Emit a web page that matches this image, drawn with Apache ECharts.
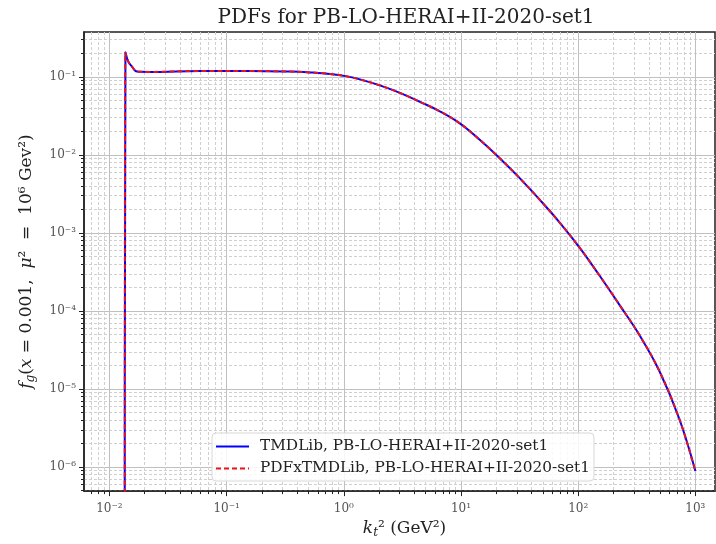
<!DOCTYPE html>
<html><head><meta charset="utf-8">
<script src="https://cdn.jsdelivr.net/npm/echarts@6/dist/echarts.min.js"></script>
<style>html,body{margin:0;padding:0;background:#fff}#c{width:716px;height:544px}</style>
</head><body><div id="c"></div>
<script>
const titleText = 'PDFs for PB-LO-HERAI+II-2020-set1';
const seriesNames = ['TMDLib, PB-LO-HERAI+II-2020-set1', 'PDFxTMDLib, PB-LO-HERAI+II-2020-set1'];

const kt2 = [0.0135, 0.0137, 0.0145, 0.0156, 0.0172, 0.0223, 0.0596, 0.159, 0.348, 0.515, 0.762, 1.064, 1.374, 2.03, 3.01, 4.46, 6.6, 9.77, 14.45, 21.4, 31.7, 46.9, 69.5, 102.8, 152, 225, 334, 494, 731, 1000];
const tmdlibF = [1e-9, 0.2047, 0.157, 0.1355, 0.1169, 0.1158, 0.1193, 0.1193, 0.117, 0.1142, 0.1092, 0.1015, 0.0929, 0.0778, 0.0624, 0.0479, 0.0362, 0.0254, 0.01565, 0.00908, 0.00504, 0.00267, 0.00136, 6.5e-4, 2.85e-4, 1.2e-4, 4.88e-5, 1.69e-5, 4.11e-6, 8.9e-7];
const pdfxF = [1e-9, 0.2047, 0.157, 0.1355, 0.1169, 0.1158, 0.1193, 0.1193, 0.117, 0.1142, 0.1092, 0.1015, 0.0929, 0.0778, 0.0624, 0.0479, 0.0362, 0.0254, 0.01565, 0.00908, 0.00504, 0.00267, 0.00136, 6.5e-4, 2.85e-4, 1.2e-4, 4.88e-5, 1.69e-5, 4.11e-6, 8.9e-7];

const xTickValues = [0.01, 0.1, 1, 10, 100, 1000];
const xTickLabels = ['10⁻²', '10⁻¹', '10⁰', '10¹', '10²', '10³'];
const yTickValues = [1e-6, 1e-5, 1e-4, 1e-3, 1e-2, 1e-1];
const yTickLabels = ['10⁻⁶', '10⁻⁵', '10⁻⁴', '10⁻³', '10⁻²', '10⁻¹'];

const xRange = [0.00607, 1470];
const yRange = [4.93e-7, 0.376];

function minorValues(lo, hi) {
  const out = [];
  for (let d = -8; d <= 4; d++) {
    for (let k = 2; k <= 9; k++) {
      const v = k * Math.pow(10, d);
      if (v > lo && v < hi) out.push(v);
    }
  }
  return out;
}
function labelFor(v, vals, labels) {
  for (let i = 0; i < vals.length; i++) {
    if (Math.abs(Math.log10(v) - Math.log10(vals[i])) < 1e-6) return labels[i];
  }
  return '';
}

const SERIF = 'DejaVu Serif';
const axisColor = '#222';
const majorGrid = { show: true, lineStyle: { color: '#c0c0c0', width: 1, type: 'solid' } };
const minorGrid = { show: true, lineStyle: { color: '#d0d0d0', width: 1, type: [3, 2] } };
const nameRich = {
  it: { fontFamily: SERIF, fontStyle: 'italic', fontSize: 17, color: '#222' },
  sub: { fontFamily: SERIF, fontStyle: 'italic', fontSize: 12, color: '#222', padding: [9, 0, 0, 0] },
  n: { fontFamily: SERIF, fontSize: 17, color: '#222' }
};

const chart = echarts.init(document.getElementById('c'), null, { renderer: 'canvas' });
chart.setOption({
  animation: false,
  backgroundColor: '#fff',
  title: {
    text: titleText, left: 401, top: 3, textAlign: 'center',
    textStyle: { fontFamily: SERIF, fontSize: 20, fontWeight: 'normal', color: '#222' }
  },
  grid: { left: 84, top: 32, right: 1, bottom: 52, show: true, borderColor: axisColor, borderWidth: 1.5, backgroundColor: 'transparent' },
  legend: {
    data: seriesNames, orient: 'vertical', left: 212, top: 433,
    itemWidth: 33, itemHeight: 16, itemGap: 7,
    itemStyle: { opacity: 0 },
    textStyle: { fontFamily: SERIF, fontSize: 15.3, color: '#222', padding: [0, 0, 0, 6] },
    backgroundColor: 'rgba(255,255,255,0.85)', borderColor: '#d8d8d8', borderWidth: 1, borderRadius: 4,
    padding: [6, 4, 5, 3]
  },
  xAxis: [
    {
      type: 'log', min: xRange[0], max: xRange[1], position: 'bottom',
      axisLine: { show: true, lineStyle: { color: axisColor, width: 1.5 } },
      axisTick: { show: true, customValues: xTickValues, length: 5, lineStyle: { color: axisColor } },
      axisLabel: { customValues: xTickValues, formatter: v => labelFor(v, xTickValues, xTickLabels), fontFamily: SERIF, fontSize: 12, color: '#555', margin: 12 },
      splitLine: majorGrid,
      name: '{it|k}{sub|t}{n|² (GeV²)}', nameLocation: 'middle', nameGap: 26,
      nameTextStyle: { fontFamily: SERIF, fontSize: 17, color: '#222', rich: nameRich, padding: [0, 0, 0, 10] }
    },
    {
      type: 'log', min: xRange[0], max: xRange[1], position: 'bottom',
      axisLine: { show: false },
      axisTick: { show: true, customValues: minorValues(xRange[0], xRange[1]), length: 3, lineStyle: { color: axisColor } },
      axisLabel: { show: false },
      splitLine: minorGrid
    }
  ],
  yAxis: [
    {
      type: 'log', min: yRange[0], max: yRange[1], position: 'left',
      axisLine: { show: true, lineStyle: { color: axisColor, width: 1.5 } },
      axisTick: { show: true, customValues: yTickValues, length: 5, lineStyle: { color: axisColor } },
      axisLabel: { customValues: yTickValues, formatter: v => labelFor(v, yTickValues, yTickLabels), fontFamily: SERIF, fontSize: 12, color: '#555', margin: 8 },
      splitLine: majorGrid,
      name: '{it|f}{sub|g}{n|(}{it|x}{n| = 0.001,  }{it|μ}{n|²  =  10⁶ Gev²)}', nameLocation: 'middle', nameGap: 47, nameRotate: 90,
      nameTextStyle: { fontFamily: SERIF, fontSize: 17, color: '#222', rich: nameRich }
    },
    {
      type: 'log', min: yRange[0], max: yRange[1], position: 'left',
      axisLine: { show: false },
      axisTick: { show: true, customValues: minorValues(yRange[0], yRange[1]), length: 3, lineStyle: { color: axisColor } },
      axisLabel: { show: false },
      splitLine: minorGrid
    }
  ],
  series: [
    {
      name: seriesNames[0], type: 'line', xAxisIndex: 0, yAxisIndex: 0,
      data: kt2.map((x, i) => [x, tmdlibF[i]]),
      symbol: 'none', smooth: 0.4, clip: true,
      lineStyle: { color: '#0000ff', width: 2 }, itemStyle: { color: '#0000ff' }
    },
    {
      name: seriesNames[1], type: 'line', xAxisIndex: 0, yAxisIndex: 0,
      data: kt2.map((x, i) => [x, pdfxF[i]]),
      symbol: 'none', smooth: 0.4, clip: true,
      lineStyle: { color: '#e8141c', width: 2, type: [5, 3] }, itemStyle: { color: '#e8141c' }
    }
  ]
});
</script>
</body></html>
